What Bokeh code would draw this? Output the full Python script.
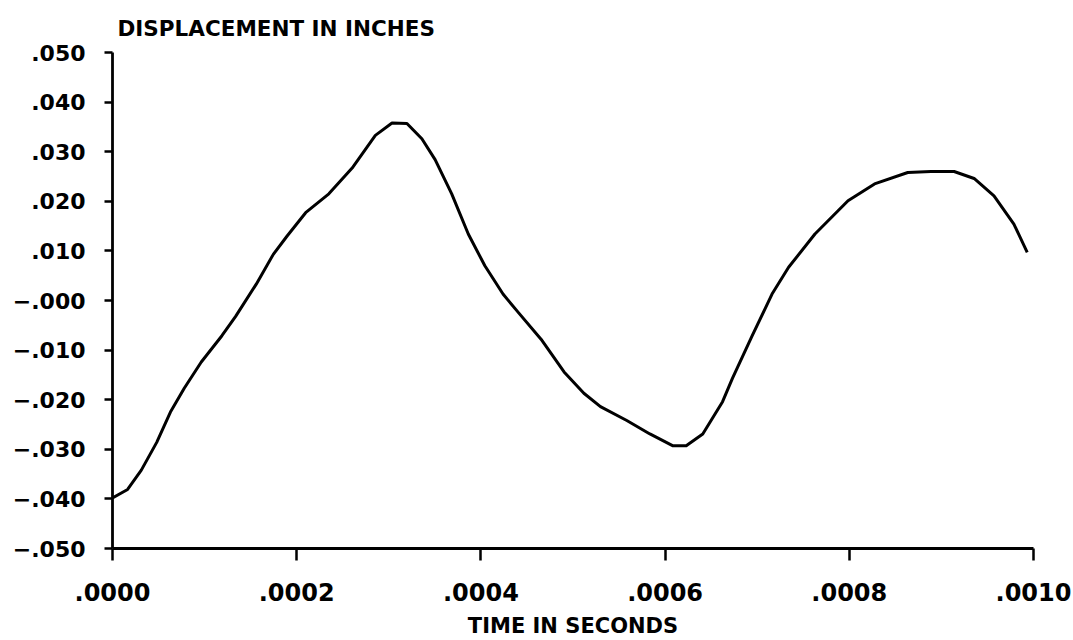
from bokeh.plotting import figure
from bokeh.models import FixedTicker, Range1d
from bokeh.embed import file_html
from bokeh.resources import INLINE

# ---- data ----
time_s = [0.0, 0.164e-4, 0.313e-4, 0.48e-4, 0.629e-4, 0.779e-4, 0.964e-4, 1.188e-4,
          1.337e-4, 1.561e-4, 1.746e-4, 1.896e-4, 2.097e-4, 2.349e-4, 2.602e-4,
          2.854e-4, 3.035e-4, 3.197e-4, 3.359e-4, 3.503e-4, 3.683e-4, 3.863e-4,
          4.043e-4, 4.24e-4, 4.401e-4, 4.653e-4, 4.903e-4, 5.118e-4, 5.298e-4,
          5.584e-4, 5.835e-4, 6.086e-4, 6.229e-4, 6.409e-4, 6.624e-4, 6.731e-4,
          6.946e-4, 7.161e-4, 7.341e-4, 7.627e-4, 7.986e-4, 8.274e-4, 8.635e-4,
          8.885e-4, 9.138e-4, 9.355e-4, 9.571e-4, 9.787e-4, 9.932e-4]
disp_in = [-39.8e-3, -38.1e-3, -34.2e-3, -28.6e-3, -22.5e-3, -17.7e-3, -12.4e-3, -7.1e-3,
           -3.2e-3, 3.3e-3, 9.3e-3, 13.0e-3, 17.7e-3, 21.5e-3, 26.7e-3,
           33.3e-3, 35.8e-3, 35.7e-3, 32.6e-3, 28.4e-3, 21.5e-3, 13.4e-3,
           7.0e-3, 1.3e-3, -2.3e-3, -7.8e-3, -14.4e-3, -18.7e-3, -21.4e-3,
           -24.2e-3, -26.9e-3, -29.3e-3, -29.3e-3, -26.9e-3, -20.4e-3, -15.7e-3,
           -7.1e-3, 1.3e-3, 6.7e-3, 13.4e-3, 20.1e-3, 23.5e-3, 25.8e-3,
           26.0e-3, 26.0e-3, 24.6e-3, 21.1e-3, 15.4e-3, 9.7e-3]

x_ticks = [0.0, 0.0002, 0.0004, 0.0006, 0.0008, 0.0010]
x_tick_labels = [".0000", ".0002", ".0004", ".0006", ".0008", ".0010"]
y_ticks = [0.05, 0.04, 0.03, 0.02, 0.01, 0.0, -0.01, -0.02, -0.03, -0.04, -0.05]
y_tick_labels = [".050", ".040", ".030", ".020", ".010", "\u2212.000", "\u2212.010",
                 "\u2212.020", "\u2212.030", "\u2212.040", "\u2212.050"]
x_title = "TIME IN SECONDS"
y_title = "DISPLACEMENT IN INCHES"

FONT = "DejaVu Sans"

p = figure(width=1073, height=640, output_backend="svg", toolbar_location=None,
           x_range=Range1d(0, 0.001), y_range=Range1d(-0.05, 0.05),
           min_border_left=112, min_border_right=40, min_border_top=52,
           min_border_bottom=92, background_fill_color="white",
           border_fill_color="white", title=y_title)
p.outline_line_color = None
p.grid.visible = False

p.title.align = "left"
p.title.offset = 5
p.title.standoff = 24
p.title.text_font = FONT
p.title.text_font_style = "bold"
p.title.text_font_size = "21.5px"
p.title.text_color = "black"

p.line(time_s, disp_in, line_color="black", line_width=3, line_join="round")

for ax in (p.xaxis[0], p.yaxis[0]):
    ax.axis_line_width = 2.8
    ax.axis_line_color = "black"
    ax.major_tick_line_width = 2.5
    ax.major_tick_line_color = "black"
    ax.major_tick_in = 0
    ax.minor_tick_line_color = None
    ax.major_label_text_font = FONT
    ax.major_label_text_font_style = "bold"
    ax.major_label_text_color = "black"

p.xaxis.ticker = FixedTicker(ticks=x_ticks)
p.xaxis.major_label_overrides = dict(zip(x_ticks, x_tick_labels))
p.xaxis.major_tick_out = 12
p.xaxis.major_label_standoff = 22
p.xaxis.major_label_text_font_size = "24px"
p.xaxis.axis_label = x_title
p.xaxis.axis_label_standoff = 10
p.xaxis.axis_label_text_font = FONT
p.xaxis.axis_label_text_font_style = "bold"
p.xaxis.axis_label_text_font_size = "21px"
p.xaxis.axis_label_text_color = "black"

p.yaxis.ticker = FixedTicker(ticks=y_ticks)
p.yaxis.major_label_overrides = dict(zip(y_ticks, y_tick_labels))
p.yaxis.major_tick_out = 8
p.yaxis.major_label_standoff = 19
p.yaxis.major_label_text_font_size = "22px"

open("out.html", "w").write(file_html(p, INLINE))
